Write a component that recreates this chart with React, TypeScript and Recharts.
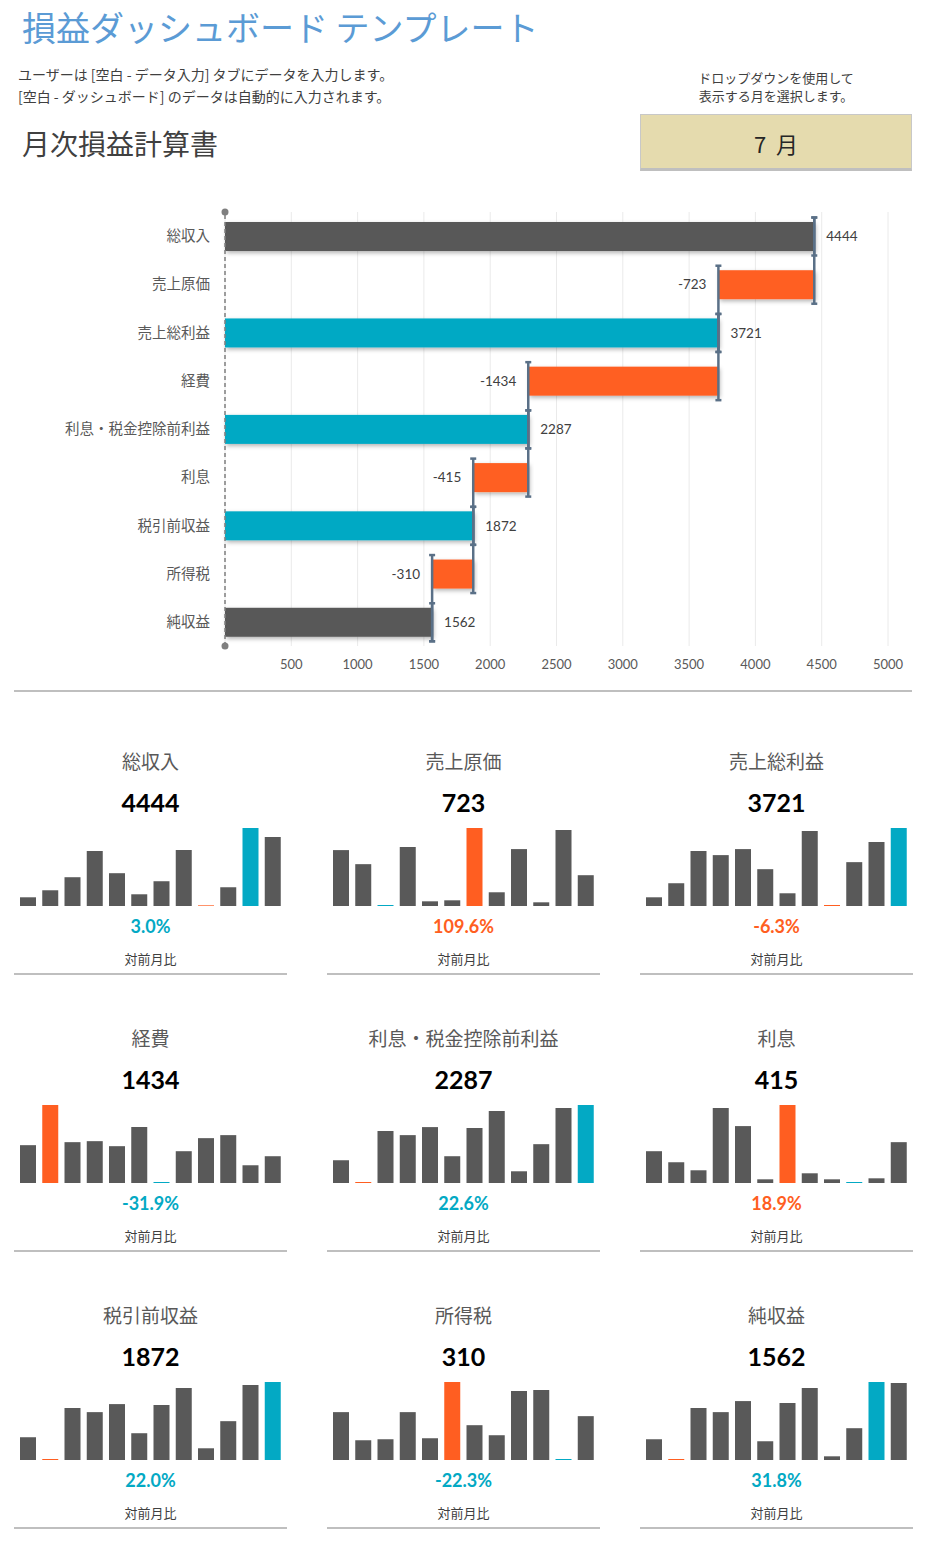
import { BarChart, Bar, XAxis, YAxis, CartesianGrid, Cell, LabelList, ReferenceLine } from "recharts";

const GRAY = "#595959";
const TEAL = "#03A9C4";
const ORANGE = "#FF5E21";
const LINK = "#5A7087";
const FONT = "'Lato', 'Noto Sans CJK JP', sans-serif";
const JP = "'Noto Sans CJK JP', sans-serif";

// waterfall (monthly P&L)
const pnlLabels = ["総収入", "売上原価", "売上総利益", "経費", "利息・税金控除前利益", "利息", "税引前収益", "所得税", "純収益"];
const pnlAmounts = [4444, -723, 3721, -1434, 2287, -415, 1872, -310, 1562];
const pnlKinds = ["total", "delta", "subtotal", "delta", "subtotal", "delta", "subtotal", "delta", "total"];
const xTicks = [500, 1000, 1500, 2000, 2500, 3000, 3500, 4000, 4500, 5000];

// small multiples: 12 months each (relative heights)
const revenueHist = [26, 47, 86, 164, 98, 35, 74, 167, 2, 56, 233, 206];
const cogsHist = [167, 125, 3, 176, 14, 17, 233, 41, 170, 11, 227, 92];
const grossHist = [26, 68, 164, 152, 170, 110, 38, 224, 3, 131, 191, 233];
const expenseHist = [113, 233, 122, 125, 110, 167, 3, 95, 134, 143, 53, 80];
const ebitHist = [68, 3, 155, 143, 167, 80, 164, 215, 35, 116, 224, 233];
const interestHist = [95, 62, 38, 224, 170, 11, 233, 29, 11, 3, 14, 122];
const pretaxHist = [68, 3, 155, 143, 167, 80, 164, 215, 35, 116, 224, 233];
const taxHist = [143, 59, 62, 143, 65, 233, 104, 74, 206, 209, 3, 131];
const netHist = [62, 3, 155, 143, 176, 56, 170, 215, 11, 95, 233, 230];

const cardTitles = ["総収入", "売上原価", "売上総利益", "経費", "利息・税金控除前利益", "利息", "税引前収益", "所得税", "純収益"];
const cardValues = [4444, 723, 3721, 1434, 2287, 415, 1872, 310, 1562];
const cardChanges = [3.0, 109.6, -6.3, -31.9, 22.6, 18.9, 22.0, -22.3, 31.8];
const cardIsCost = [false, true, false, true, false, true, false, true, false];
const cardHists = [revenueHist, cogsHist, grossHist, expenseHist, ebitHist, interestHist, pretaxHist, taxHist, netHist];

let running = 0;
const waterfall = pnlLabels.map((name, i) => {
  const amt = pnlAmounts[i];
  const kind = pnlKinds[i];
  if (kind === "delta") {
    running = running + amt;
    return { name, base: running, size: -amt, amt, kind };
  }
  running = amt;
  return { name, base: 0, size: amt, amt, kind };
});

const kindColor: Record<string, string> = { total: GRAY, subtotal: TEAL, delta: ORANGE };

const PLOT_H = 434;
const BAND = PLOT_H / pnlLabels.length;
const HALF = 19;

const Seg = ({ x, y1, y2 }: { x: number; y1: number; y2: number }) => (
  <g stroke={LINK} strokeWidth={2.5}>
    <line x1={x} x2={x} y1={y1} y2={y2} />
    <line x1={x - 3} x2={x + 3} y1={y1} y2={y1} />
    <line x1={x - 3} x2={x + 3} y1={y2} y2={y2} />
  </g>
);

const WaterfallShape = (p: any) => {
  const { x, y, width, height, payload } = p;
  const cy = y + height / 2;
  return (
    <g>
      <rect x={x} y={y} width={width} height={height} fill={kindColor[payload.kind]} filter="url(#barShadow)" />
      {payload.kind === "delta" ? (
        <>
          <Seg x={x + width} y1={cy - HALF - BAND} y2={cy + HALF} />
          <Seg x={x} y1={cy - HALF} y2={cy + HALF + BAND} />
        </>
      ) : (
        <Seg x={x + width} y1={cy - HALF} y2={cy + HALF} />
      )}
    </g>
  );
};

const WaterfallLabel = (p: any) => {
  const { x, y, width, height, value } = p;
  const cy = y + height / 2;
  const neg = value < 0;
  return (
    <text
      x={neg ? x - 12 : x + width + 12}
      y={cy}
      dy="0.35em"
      textAnchor={neg ? "end" : "start"}
      fontSize={13.5}
      fill="#404040"
      fontFamily={FONT}
    >
      {value}
    </text>
  );
};

const ZeroAxis = (p: any) => (
  <g>
    <line x1={p.x1} x2={p.x2} y1={p.y1} y2={p.y2} stroke="#7F7F7F" strokeWidth={1.5} strokeDasharray="4 3" />
    <circle cx={p.x1} cy={p.y1} r={3.5} fill="#7F7F7F" />
    <circle cx={p.x2} cy={p.y2} r={3.5} fill="#7F7F7F" />
  </g>
);

const Txt = ({ x, y, w, size, color, weight, align, font, children }: any) => (
  <div
    style={{
      position: "absolute",
      left: x,
      top: y - size,
      width: w,
      height: size * 2,
      lineHeight: `${size * 2}px`,
      fontSize: size,
      color,
      fontWeight: weight || 400,
      textAlign: align || "left",
      fontFamily: font || FONT,
      whiteSpace: "nowrap",
    }}
  >
    {children}
  </div>
);

const cardX = [14, 327, 640];

const Card = ({ i }: { i: number }) => {
  const col = i % 3;
  const off = Math.floor(i / 3) * 277;
  const x = cardX[col];
  const hist = cardHists[i];
  const data = hist.map((v, m) => ({ m: m + 1, v }));
  const maxI = hist.indexOf(Math.max(...hist));
  const minI = hist.indexOf(Math.min(...hist));
  const cost = cardIsCost[i];
  const chg = cardChanges[i];
  const good = cost ? chg < 0 : chg > 0;
  return (
    <>
      <Txt x={x} y={761 + off} w={273} size={19} color={GRAY} align="center" font={JP}>{cardTitles[i]}</Txt>
      <Txt x={x} y={802 + off} w={273} size={25} color="#000" weight={700} align="center">{cardValues[i]}</Txt>
      <div style={{ position: "absolute", left: x + 3, top: 828 + off }}>
        <BarChart width={267} height={78} data={data} margin={{ top: 0, right: 0, bottom: 0, left: 0 }} barSize={16}>
          <XAxis dataKey="m" hide />
          <YAxis hide domain={[0, "dataMax"]} />
          <Bar dataKey="v" isAnimationActive={false}>
            {data.map((d, m) => (
              <Cell
                key={d.m}
                fill={m === maxI ? (cost ? ORANGE : TEAL) : m === minI ? (cost ? TEAL : ORANGE) : GRAY}
              />
            ))}
          </Bar>
        </BarChart>
      </div>
      <Txt x={x} y={926 + off} w={273} size={18} color={good ? TEAL : ORANGE} weight={700} align="center">
        {chg.toFixed(1)}%
      </Txt>
      <Txt x={x} y={959 + off} w={273} size={13} color="#404040" align="center" font={JP}>対前月比</Txt>
      <div style={{ position: "absolute", left: x, top: 973 + off, width: 273, height: 2, background: "#BFBFBF" }} />
    </>
  );
};

export default function App() {
  return (
    <div style={{ position: "absolute", left: 0, top: 0, width: 939, height: 1544, background: "#fff", fontFamily: FONT }}>
      <svg width={0} height={0} style={{ position: "absolute" }}>
        <defs>
          <filter id="barShadow" x="-10%" y="-40%" width="120%" height="190%">
            <feDropShadow dx={1.5} dy={2} stdDeviation={2} floodColor="#000" floodOpacity={0.3} />
          </filter>
        </defs>
      </svg>

      <Txt x={22} y={27} size={34} color="#5B9BD5" font={JP}>損益ダッシュボード テンプレート</Txt>
      <Txt x={18} y={74} size={14} color="#404040" font={JP}>ユーザーは [空白 - データ入力] タブにデータを入力します。</Txt>
      <Txt x={18} y={96} size={14} color="#404040" font={JP}>[空白 - ダッシュボード] のデータは自動的に入力されます。</Txt>
      <Txt x={640} y={78} w={272} size={13} color="#404040" align="center" font={JP}>ドロップダウンを使用して</Txt>
      <Txt x={640} y={96} w={272} size={13} color="#404040" align="center" font={JP}>表示する月を選択します。</Txt>
      <div
        style={{
          position: "absolute",
          left: 640,
          top: 114,
          width: 270,
          height: 53,
          background: "#E5DBAE",
          border: "1px solid #C8C8C8",
          borderBottom: "3px solid #BFBFBF",
        }}
      />
      <Txt x={640} y={143} w={272} size={22} color="#262626" align="center" font={JP}>7&nbsp;&nbsp;月</Txt>
      <Txt x={22} y={143} size={28} color="#404040" font={JP}>月次損益計算書</Txt>

      <div style={{ position: "absolute", left: 0, top: 200 }}>
        <BarChart
          width={939}
          height={490}
          layout="vertical"
          data={waterfall}
          margin={{ top: 12, right: 51, bottom: 14, left: 0 }}
          barSize={29}
        >
          <CartesianGrid horizontal={false} stroke="#EAEAEA" />
          <XAxis
            type="number"
            domain={[0, 5000]}
            ticks={xTicks}
            axisLine={false}
            tickLine={false}
            tickMargin={8}
            height={30}
            tick={{ fontSize: 13, fill: GRAY, fontFamily: FONT }}
          />
          <YAxis
            type="category"
            dataKey="name"
            width={225}
            axisLine={false}
            tickLine={false}
            tickMargin={9}
            tick={{ fontSize: 14.5, fill: GRAY, fontFamily: JP }}
          />
          <Bar dataKey="base" stackId="w" fill="transparent" isAnimationActive={false} />
          <Bar dataKey="size" stackId="w" shape={WaterfallShape} isAnimationActive={false}>
            <LabelList dataKey="amt" content={WaterfallLabel} />
          </Bar>
          <ReferenceLine x={0} shape={ZeroAxis} />
        </BarChart>
      </div>

      <div style={{ position: "absolute", left: 14, top: 690, width: 898, height: 2, background: "#BFBFBF" }} />

      {cardTitles.map((t, i) => (
        <Card key={t} i={i} />
      ))}
    </div>
  );
}
